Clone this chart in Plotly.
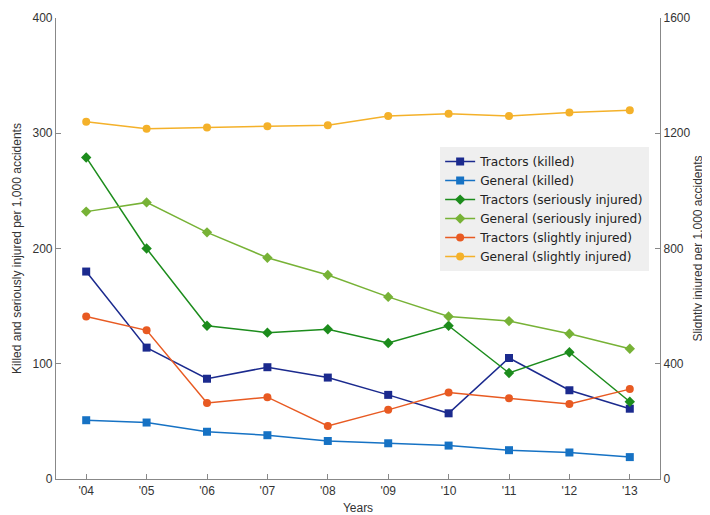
import plotly.graph_objects as go

years = ["'04", "'05", "'06", "'07", "'08", "'09", "'10", "'11", "'12", "'13"]

tractors_killed = [180, 114, 87, 97, 88, 73, 57, 105, 77, 61]
general_killed = [51, 49, 41, 38, 33, 31, 29, 25, 23, 19]
tractors_serious = [279, 200, 133, 127, 130, 118, 133, 92, 110, 67]
general_serious = [232, 240, 214, 192, 177, 158, 141, 137, 126, 113]
tractors_slight = [564, 516, 264, 284, 184, 240, 300, 280, 260, 312]
general_slight = [1240, 1216, 1220, 1224, 1228, 1260, 1268, 1260, 1272, 1280]

x = list(range(len(years)))

series = [
    ("Tractors (killed)", tractors_killed, "#1b2a8e", "square", "y"),
    ("General (killed)", general_killed, "#1672c4", "square", "y"),
    ("Tractors (seriously injured)", tractors_serious, "#1c8c1c", "diamond", "y"),
    ("General (seriously injured)", general_serious, "#77b236", "diamond", "y"),
    ("Tractors (slightly injured)", tractors_slight, "#e85a22", "circle", "y2"),
    ("General (slightly injured)", general_slight, "#f4b12a", "circle", "y2"),
]

fig = go.Figure()
for name, vals, color, sym, ax in series:
    fig.add_trace(go.Scatter(
        x=x, y=vals, name=name, mode="lines+markers", yaxis=ax,
        line=dict(color=color, width=1.5),
        marker=dict(symbol=sym, size=8, color=color),
    ))

axis_font = dict(family="Liberation Sans, Arial", size=12, color="#333333")

fig.update_layout(
    width=702, height=507,
    margin=dict(l=48, r=50, t=10, b=36, autoexpand=False),
    paper_bgcolor="white", plot_bgcolor="white",
    font=dict(family="Liberation Sans, Arial", size=12, color="#222222"),
    showlegend=True,
    legend=dict(
        x=0.636, y=0.72, xanchor="left", yanchor="top",
        bgcolor="#efefef", borderwidth=0,
        font=dict(family="DejaVu Sans", size=12.2, color="#222222"),
        itemwidth=30, tracegroupgap=0,
    ),
    xaxis=dict(
        tickmode="array", tickvals=x, ticktext=years,
        range=[-0.5, 9.5], showgrid=False, zeroline=False,
        showline=True, linecolor="#888888", linewidth=1.2,
        ticks="inside", ticklen=5, tickcolor="#888888",
        tickfont=axis_font, automargin=False,
        title=dict(text="Years", font=axis_font, standoff=13),
    ),
    yaxis=dict(
        range=[0, 400], dtick=100, showgrid=False, zeroline=False,
        showline=True, linecolor="#888888", linewidth=1.2,
        ticks="inside", ticklen=5, tickcolor="#888888",
        tickfont=axis_font, automargin=False,
        title=dict(text="Killed and seriously injured per 1,000 accidents", font=axis_font, standoff=8),
    ),
    yaxis2=dict(
        range=[0, 1600], dtick=400, overlaying="y", side="right",
        showgrid=False, zeroline=False,
        showline=True, linecolor="#888888", linewidth=1.2,
        ticks="inside", ticklen=5, tickcolor="#888888",
        tickfont=axis_font, automargin=False,
        title=dict(text="Slightly injured per 1,000 accidents", font=axis_font, standoff=4),
    ),
)

fig.write_html("out.html")
